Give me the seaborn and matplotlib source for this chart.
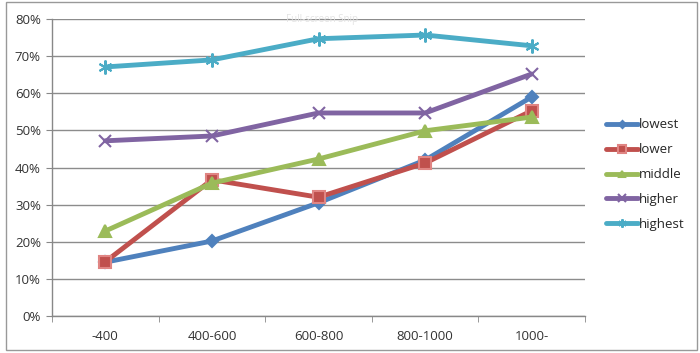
import matplotlib
matplotlib.use('Agg')
from matplotlib import pyplot as plt
from matplotlib.patches import Rectangle
from matplotlib.ticker import PercentFormatter
import seaborn as sns

categories = ['-400', '400-600', '600-800', '800-1000', '1000-']
series_names = ['lowest', 'lower', 'middle', 'higher', 'highest']
lowest = [14.5, 20.2, 30.5, 42.0, 59.0]
lower = [14.6, 36.7, 32.0, 41.2, 55.3]
middle = [22.9, 35.8, 42.3, 49.9, 53.6]
higher = [47.2, 48.5, 54.7, 54.7, 65.2]
highest = [67.1, 69.0, 74.7, 75.7, 72.8]

colors = ['#4f81bd', '#c0504d', '#9bbb59', '#8064a2', '#4bacc6']
edge_colors = ['#4f81bd', '#e08583', '#9bbb59', '#8064a2', '#4bacc6']
markers = ['D', 's', '^', 'x', (6, 2, 0)]
msizes = [6, 9, 8, 9, 10]

sns.set_style('white')
plt.rcParams['font.family'] = ['Open Sans', 'DejaVu Sans']

fig = plt.figure(figsize=(7, 3.53), dpi=100)
ax = fig.add_axes([0.0743, 0.1048, 0.7614, 0.8412])

all_values = [lowest, lower, middle, higher, highest]
for name, vals, c, ec, m, ms in zip(series_names, all_values, colors, edge_colors, markers, msizes):
    # line-art markers take the line colour as edge
    edge = c if (m == 'x' or isinstance(m, tuple)) else ec
    sns.lineplot(x=list(range(len(categories))), y=vals, ax=ax, color=c, lw=3.5,
                 marker=m, markersize=ms, markeredgecolor=edge,
                 markeredgewidth=1.5, label=name)

ax.set_xlim(-0.5, 4.5)
ax.set_ylim(0, 80)
ax.set_yticks(range(0, 81, 10))
ax.yaxis.set_major_formatter(PercentFormatter(decimals=0))
ax.set_xticks(range(len(categories)))
ax.set_xticklabels(categories)
ax.set_xticks([x - 0.5 for x in range(len(categories) + 1)], minor=True)
ax.tick_params(axis='x', which='major', length=0, pad=10, labelsize=9.5, labelcolor='#333333')
ax.tick_params(axis='x', which='minor', length=4, direction='out', color='#888888', bottom=True)
ax.tick_params(axis='y', length=4, direction='out', color='#888888', left=True, labelsize=9.5,
               labelcolor='#333333', pad=4)
ax.grid(axis='y', color='#8c8c8c', lw=1)
ax.set_axisbelow(True)
for s in ['top', 'right']:
    ax.spines[s].set_visible(False)
for s in ['left', 'bottom']:
    ax.spines[s].set_color('#888888')
    ax.spines[s].set_linewidth(1)
ax.set_xlabel('')
ax.set_ylabel('')

ax.legend(loc='center left', bbox_to_anchor=(0.858, 0.505), bbox_transform=fig.transFigure,
          frameon=False, fontsize=9.5, handlelength=2.4, handletextpad=0.1,
          labelspacing=0.9, borderaxespad=0, markerscale=0.6)

fig.text(0.46, 0.945, 'Full-screen Snip', fontsize=7, color='#e3e3e3', ha='center', va='center')

fig.patches.append(Rectangle((0.008, 0.008), 0.988, 0.985, transform=fig.transFigure,
                             fill=False, edgecolor='#999999', lw=1))

fig.savefig('out.png', dpi=100)
